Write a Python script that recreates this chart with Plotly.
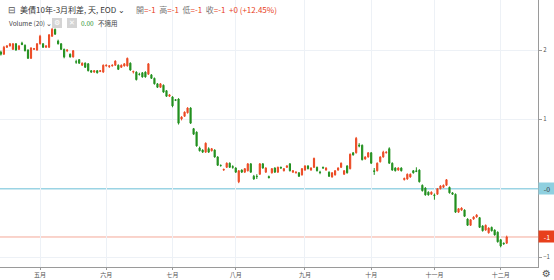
import plotly.graph_objects as go
import pandas as pd

# ---- data (10Y-3M US Treasury spread, daily) ----
dates = pd.bdate_range("2022-04-13", "2022-12-05").strftime("%Y-%m-%d").tolist()

open_ = [
    1.97, 1.94, 2.04, 2.06, 2.01, 2.09, 2.01, 2.10, 2.07, 2.00,
    1.88, 2.01, 2.00, 2.09, 2.09, 2.04, 2.04, 2.20, 2.30, 2.13,
    2.09, 2.01, 1.99, 1.94, 1.90, 1.83, 1.86, 1.78, 1.81, 1.80,
    1.70, 1.68, 1.70, 1.69, 1.68, 1.77, 1.76, 1.77, 1.78, 1.78,
    1.75, 1.77, 1.77, 1.81, 1.68, 1.68, 1.65, 1.67, 1.68, 1.65,
    1.64, 1.59, 1.51, 1.46, 1.49, 1.41, 1.33, 1.32, 1.28, 1.29,
    1.00, 1.04, 1.09, 1.16, 0.86, 0.81, 0.58, 0.55, 0.52, 0.57,
    0.54, 0.55, 0.45, 0.33, 0.26, 0.30, 0.36, 0.31, 0.29, 0.09,
    0.26, 0.23, 0.25, 0.35, 0.17, 0.17, 0.20, 0.35, 0.23, 0.165,
    0.22, 0.29, 0.23, 0.30, 0.25, 0.30, 0.35, 0.23, 0.22, 0.22,
    0.19, 0.26, 0.32, 0.26, 0.30, 0.30, 0.23, 0.30, 0.26, 0.23,
    0.16, 0.19, 0.26, 0.30, 0.20, 0.32, 0.28, 0.51, 0.51, 0.62,
    0.62, 0.42, 0.45, 0.51, 0.25, 0.25, 0.38, 0.45, 0.51, 0.57,
    0.36, 0.29, 0.26, 0.29, 0.12, 0.13, 0.16, 0.25, 0.25, 0.26,
    0.04, 0.00, -0.06, -0.09, -0.10, -0.09, -0.01, 0.01, 0.04, 0.01,
    -0.07, -0.09, -0.35, -0.32, -0.32, -0.45, -0.54, -0.45, -0.42, -0.43,
    -0.55, -0.61, -0.65, -0.57, -0.61, -0.64, -0.75, -0.80, -0.80,
]
close = [
    1.94, 2.04, 2.06, 2.09, 2.09, 2.00, 2.06, 2.08, 1.99, 1.88,
    2.03, 2.02, 2.09, 2.20, 2.04, 2.06, 2.22, 2.30, 2.23, 2.09,
    2.01, 1.90, 2.00, 1.90, 1.99, 1.825, 1.81, 1.81, 1.75, 1.70,
    1.68, 1.70, 1.67, 1.70, 1.78, 1.78, 1.77, 1.78, 1.84, 1.72,
    1.78, 1.80, 1.88, 1.71, 1.69, 1.57, 1.645, 1.61, 1.61, 1.80,
    1.59, 1.51, 1.46, 1.51, 1.39, 1.33, 1.35, 1.19, 1.27, 0.94,
    1.03, 1.10, 1.16, 0.94, 0.78, 0.61, 0.54, 0.52, 0.65, 0.52,
    0.57, 0.45, 0.33, 0.325, 0.27, 0.36, 0.30, 0.30, 0.23, 0.25,
    0.23, 0.28, 0.35, 0.23, 0.13, 0.165, 0.35, 0.29, 0.29, 0.15,
    0.28, 0.23, 0.30, 0.29, 0.28, 0.32, 0.25, 0.25, 0.23, 0.17,
    0.28, 0.32, 0.28, 0.29, 0.43, 0.25, 0.225, 0.29, 0.29, 0.17,
    0.22, 0.25, 0.29, 0.36, 0.25, 0.22, 0.49, 0.48, 0.72, 0.61,
    0.41, 0.45, 0.51, 0.36, 0.24, 0.36, 0.45, 0.52, 0.52, 0.36,
    0.26, 0.25, 0.29, 0.25, 0.14, 0.20, 0.20, 0.22, 0.24, 0.09,
    -0.04, -0.10, -0.10, -0.06, -0.11, -0.01, 0.03, 0.04, 0.12, -0.07,
    -0.09, -0.35, -0.30, -0.29, -0.41, -0.54, -0.46, -0.42, -0.39, -0.57,
    -0.62, -0.54, -0.58, -0.62, -0.68, -0.78, -0.84, -0.81, -0.71,
]
high = [
    1.99, 2.06, 2.07, 2.10, 2.10, 2.10, 2.07, 2.12, 2.08, 2.01,
    2.04, 2.03, 2.10, 2.22, 2.10, 2.07, 2.23, 2.32, 2.31, 2.15,
    2.10, 2.02, 2.01, 1.95, 2.00, 1.86, 1.87, 1.82, 1.82, 1.81,
    1.71, 1.71, 1.71, 1.71, 1.79, 1.79, 1.78, 1.79, 1.85, 1.79,
    1.79, 1.81, 1.89, 1.82, 1.70, 1.69, 1.67, 1.68, 1.69, 1.81,
    1.65, 1.60, 1.52, 1.52, 1.50, 1.42, 1.36, 1.33, 1.29, 1.30,
    1.04, 1.11, 1.17, 1.17, 0.87, 0.82, 0.60, 0.56, 0.66, 0.59,
    0.58, 0.56, 0.46, 0.34, 0.28, 0.37, 0.37, 0.33, 0.30, 0.26,
    0.27, 0.29, 0.36, 0.36, 0.19, 0.20, 0.36, 0.36, 0.30, 0.18,
    0.29, 0.30, 0.31, 0.31, 0.29, 0.33, 0.36, 0.26, 0.24, 0.23,
    0.29, 0.33, 0.33, 0.30, 0.44, 0.31, 0.25, 0.31, 0.30, 0.24,
    0.23, 0.26, 0.30, 0.37, 0.26, 0.33, 0.50, 0.52, 0.74, 0.65,
    0.63, 0.46, 0.52, 0.52, 0.29, 0.37, 0.46, 0.54, 0.53, 0.59,
    0.37, 0.30, 0.30, 0.30, 0.15, 0.21, 0.21, 0.26, 0.30, 0.27,
    0.05, 0.01, -0.05, -0.05, -0.08, 0.00, 0.04, 0.05, 0.13, 0.02,
    -0.06, -0.08, -0.29, -0.28, -0.31, -0.44, -0.45, -0.41, -0.38, -0.42,
    -0.54, -0.53, -0.57, -0.56, -0.60, -0.63, -0.74, -0.79, -0.69,
]
low = [
    1.92, 1.93, 2.03, 2.05, 2.00, 1.99, 2.00, 2.07, 1.98, 1.87,
    1.87, 2.00, 1.99, 2.08, 2.03, 2.03, 2.03, 2.19, 2.22, 2.08,
    2.00, 1.88, 1.97, 1.89, 1.89, 1.80, 1.80, 1.77, 1.74, 1.69,
    1.67, 1.67, 1.66, 1.68, 1.67, 1.76, 1.74, 1.76, 1.77, 1.71,
    1.74, 1.76, 1.76, 1.70, 1.66, 1.56, 1.63, 1.60, 1.60, 1.64,
    1.58, 1.50, 1.45, 1.45, 1.38, 1.32, 1.32, 1.17, 1.26, 0.92,
    0.98, 1.03, 1.08, 0.93, 0.77, 0.60, 0.53, 0.51, 0.51, 0.51,
    0.53, 0.44, 0.32, 0.31, 0.25, 0.29, 0.29, 0.28, 0.22, 0.07,
    0.22, 0.22, 0.24, 0.22, 0.12, 0.13, 0.19, 0.28, 0.22, 0.14,
    0.21, 0.22, 0.22, 0.28, 0.24, 0.29, 0.24, 0.22, 0.21, 0.16,
    0.18, 0.25, 0.27, 0.25, 0.29, 0.24, 0.20, 0.28, 0.25, 0.16,
    0.15, 0.18, 0.25, 0.29, 0.19, 0.21, 0.27, 0.47, 0.50, 0.59,
    0.40, 0.41, 0.44, 0.35, 0.19, 0.24, 0.37, 0.44, 0.50, 0.35,
    0.25, 0.24, 0.25, 0.24, 0.11, 0.12, 0.15, 0.21, 0.23, 0.08,
    -0.05, -0.11, -0.11, -0.10, -0.17, -0.10, -0.02, 0.00, 0.03, -0.08,
    -0.10, -0.36, -0.36, -0.33, -0.42, -0.55, -0.55, -0.46, -0.43, -0.58,
    -0.63, -0.62, -0.66, -0.63, -0.69, -0.79, -0.86, -0.82, -0.81,
]

month_ticks = ["2022-05-02", "2022-06-01", "2022-07-01", "2022-08-01",
               "2022-09-01", "2022-10-03", "2022-11-01", "2022-12-01"]
month_labels = ["五月", "六月", "七月", "八月", "九月", "十月", "十一月", "十二月"]
y_ticks = [2, 1, -1]
y_tick_labels = ["2", "1", "−1"]

marker_line_value = -0.01      # user horizontal line
last_close = close[-1]

title_text = "美債10年-3月利差, 天, EOD"

# ---- styling ----
RED = "#ec4a24"
GREEN = "#22901f"
GRID = "#edf1f6"
FONT = "Noto Sans CJK TC"
W, H = 554, 280
ML, MR, MT, MB = 0, 16, 0, 13
PW, PH = W - ML - MR, H - MT - MB


def px(x):
    return (x - ML) / PW


def py(y):
    return 1 - (y - MT) / PH


fig = go.Figure()
fig.add_trace(go.Candlestick(
    x=dates, open=open_, high=high, low=low, close=close,
    increasing=dict(line=dict(color=RED, width=1), fillcolor=RED),
    decreasing=dict(line=dict(color=GREEN, width=1), fillcolor=GREEN),
    whiskerwidth=0, showlegend=False, hoverinfo="skip",
))

shapes = [
    dict(type="line", xref="paper", x0=0, x1=1, yref="y",
         y0=marker_line_value, y1=marker_line_value,
         line=dict(color="#9bd4e4", width=1.5), layer="below"),
    dict(type="line", xref="paper", x0=0, x1=1, yref="y",
         y0=last_close, y1=last_close,
         line=dict(color="#f4a898", width=1), layer="below"),
    dict(type="rect", xref="paper", yref="paper",
         x0=px(52), x1=px(62), y0=py(28), y1=py(18),
         fillcolor="#d4d4d4", line=dict(width=0)),
    dict(type="rect", xref="paper", yref="paper",
         x0=px(67), x1=px(77), y0=py(28), y1=py(18),
         fillcolor="#d4d4d4", line=dict(width=0)),
]

red_span = '<span style="color:#e8401c">{}</span>'
ohlc_text = ("開" + red_span.format("=-1") + "  高" + red_span.format("=-1") +
             "  低" + red_span.format("=-1") + "  收" + red_span.format("=-1") +
             "  " + red_span.format("+0 (+12.45%)"))

annotations = [
    dict(text="⊟", x=px(6), y=py(10), xref="paper", yref="paper",
         xanchor="left", yanchor="middle", showarrow=False,
         font=dict(size=9, color="#555", family=FONT)),
    dict(text=title_text + " ⌄", x=px(18), y=py(10), xref="paper", yref="paper",
         xanchor="left", yanchor="middle", showarrow=False,
         font=dict(size=8, color="#333", family=FONT)),
    dict(text=ohlc_text, x=px(134), y=py(10), xref="paper", yref="paper",
         xanchor="left", yanchor="middle", showarrow=False,
         font=dict(size=8, color="#777", family=FONT)),
    dict(text="Volume (20) ⌄", x=px(7), y=py(23), xref="paper", yref="paper",
         xanchor="left", yanchor="middle", showarrow=False,
         font=dict(size=6.5, color="#444", family=FONT)),
    dict(text="⚙", x=px(57), y=py(23), xref="paper", yref="paper",
         xanchor="center", yanchor="middle", showarrow=False,
         font=dict(size=7, color="#ffffff", family="DejaVu Sans")),
    dict(text="✕", x=px(72), y=py(23), xref="paper", yref="paper",
         xanchor="center", yanchor="middle", showarrow=False,
         font=dict(size=7, color="#ffffff", family="DejaVu Sans")),
    dict(text="0.00", x=px(79), y=py(23), xref="paper", yref="paper",
         xanchor="left", yanchor="middle", showarrow=False,
         font=dict(size=6.5, color="#22901f", family=FONT)),
    dict(text="不適用", x=px(96), y=py(23), xref="paper", yref="paper",
         xanchor="left", yanchor="middle", showarrow=False,
         font=dict(size=6.5, color="#444", family=FONT)),
    dict(text="-0", x=1, xref="paper", y=marker_line_value, yref="y",
         xanchor="left", yanchor="middle", showarrow=False,
         bgcolor="#8fd0e0", width=16, height=11, borderpad=0, align="center",
         font=dict(size=7, color="#333", family=FONT)),
    dict(text="-1", x=1, xref="paper", y=last_close, yref="y",
         xanchor="left", yanchor="middle", showarrow=False,
         bgcolor="#e8401c", width=16, height=11, borderpad=0, align="center",
         font=dict(size=7, color="#ffffff", family=FONT)),
    dict(text="⚙", x=px(546), y=py(273), xref="paper", yref="paper",
         xanchor="center", yanchor="middle", showarrow=False,
         font=dict(size=10, color="#555", family="DejaVu Sans")),
]

fig.update_layout(
    width=W, height=H,
    margin=dict(l=ML, r=MR, t=MT, b=MB, pad=0),
    paper_bgcolor="white", plot_bgcolor="white",
    boxgap=0.45,
    shapes=shapes, annotations=annotations,
    font=dict(family=FONT, size=6, color="#555"),
    xaxis=dict(
        type="category", range=[-0.3, 178.4],
        tickmode="array", tickvals=month_ticks, ticktext=month_labels,
        showgrid=True, gridcolor=GRID, gridwidth=1,
        showline=True, linecolor="#9a9a9a", linewidth=1,
        ticks="outside", ticklen=2, tickcolor="#9a9a9a",
        tickfont=dict(size=6, color="#555", family=FONT),
        rangeslider=dict(visible=False), fixedrange=True,
    ),
    yaxis=dict(
        side="right", range=[-1.145, 2.725],
        tickmode="array", tickvals=y_ticks, ticktext=y_tick_labels,
        showgrid=True, gridcolor=GRID, gridwidth=1, zeroline=False,
        showline=True, linecolor="#9a9a9a", linewidth=1,
        ticks="outside", ticklen=3, tickcolor="#9a9a9a",
        tickfont=dict(size=6, color="#555", family=FONT),
        fixedrange=True,
    ),
)

fig.write_html("out.html")
